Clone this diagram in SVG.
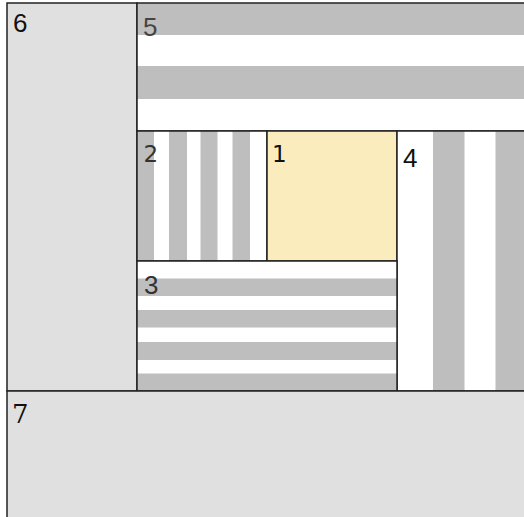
<svg xmlns="http://www.w3.org/2000/svg" width="524" height="517" viewBox="0 0 524 517">
<style>
.bg{fill:#ffffff}
.pale{fill:#e0e0e0}
.st{fill:#bebebe}
.yel{fill:#fbecbd}
.bd{fill:none;stroke:#222;stroke-width:1.5}
.ls{font-family:"Liberation Sans",Arial,sans-serif;font-size:26px}
.dj{font-family:"DejaVu Sans",sans-serif;font-size:23px;font-weight:500}
.sf{font-family:"DejaVu Serif",serif;font-size:26px}
</style>
<rect x="0" y="0" width="524" height="517" class="bg"/>
<g id="node6">
<rect x="7" y="3" width="130" height="388" class="pale"/>
<rect x="7" y="3" width="130" height="388" class="bd"/>
<text x="13" y="32" class="ls" fill="#111">6</text>
</g>
<g id="node5">
<rect x="137" y="3" width="395" height="128" class="bg"/>
<rect x="137" y="3" width="395" height="32" class="st"/>
<rect x="137" y="66" width="395" height="33" class="st"/>
<rect x="137" y="3" width="395" height="128" class="bd"/>
<text x="143" y="35.5" class="ls" fill="#444">5</text>
</g>
<g id="node2">
<rect x="137" y="131" width="130" height="130" class="bg"/>
<rect x="137" y="131" width="17" height="130" class="st"/>
<rect x="169" y="131" width="18" height="130" class="st"/>
<rect x="200.5" y="131" width="17" height="130" class="st"/>
<rect x="232.5" y="131" width="17.5" height="130" class="st"/>
<rect x="137" y="131" width="130" height="130" class="bd"/>
<text x="143.5" y="162" class="dj" fill="#333">2</text>
</g>
<g id="node1">
<rect x="267" y="131" width="130" height="130" class="yel"/>
<rect x="267" y="131" width="130" height="130" class="bd"/>
<text x="272" y="162" class="dj" fill="#111">1</text>
</g>
<g id="node4">
<rect x="397" y="131" width="135" height="260" class="bg"/>
<rect x="433" y="131" width="31.5" height="260" class="st"/>
<rect x="495.5" y="131" width="36" height="260" class="st"/>
<rect x="397" y="131" width="135" height="260" class="bd"/>
<text x="403" y="167" class="ls" fill="#111">4</text>
</g>
<g id="node3">
<rect x="137" y="261" width="260" height="130" class="bg"/>
<rect x="137" y="278.5" width="260" height="17.5" class="st"/>
<rect x="137" y="310" width="260" height="17.5" class="st"/>
<rect x="137" y="342" width="260" height="18" class="st"/>
<rect x="137" y="373.5" width="260" height="17.5" class="st"/>
<rect x="137" y="261" width="260" height="130" class="bd"/>
<text x="144" y="294" class="ls" fill="#333">3</text>
</g>
<g id="node7">
<rect x="7" y="391" width="525" height="135" class="pale"/>
<rect x="7" y="391" width="525" height="135" class="bd"/>
<text x="12" y="423" class="sf" fill="#111">7</text>
</g>
</svg>
